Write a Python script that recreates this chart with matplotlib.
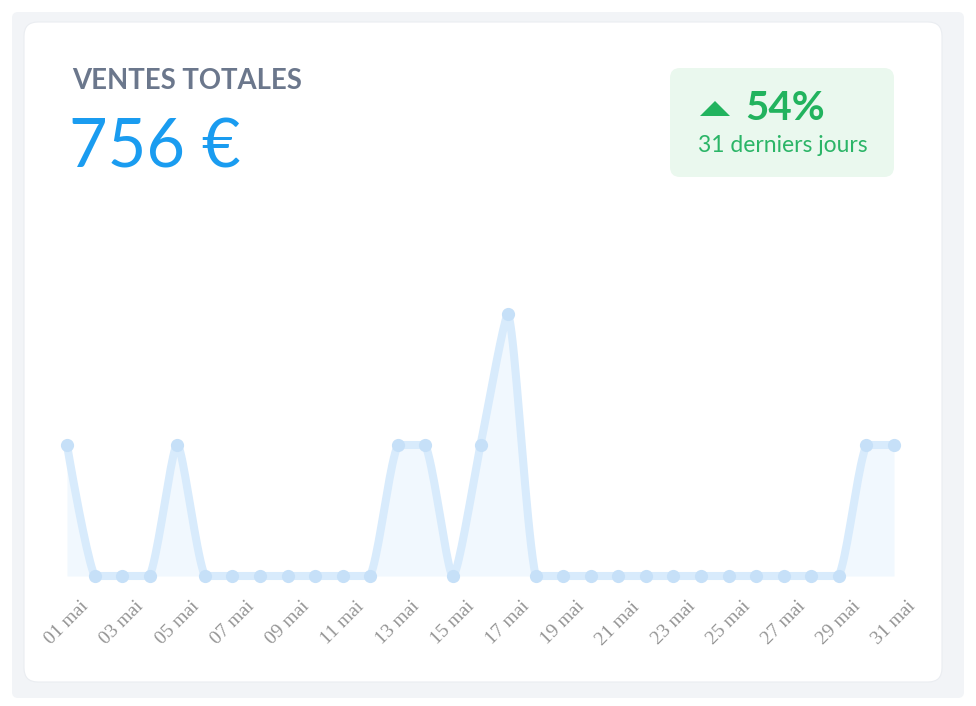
import numpy as np
import matplotlib
matplotlib.use("Agg")
import matplotlib.pyplot as plt
from matplotlib.patches import FancyBboxPatch, Polygon

# données : ventes journalières (mai)
jours = list(range(1, 32))
ventes = [84, 0, 0, 0, 84, 0, 0, 0, 0, 0, 0, 0, 84, 84, 0, 84, 168, 0,
          0, 0, 0, 0, 0, 0, 0, 0, 0, 0, 0, 84, 84]
etiquettes = ["%02d mai" % j for j in jours]
titre = "VENTES TOTALES"
total = "756 €"
variation = "54%"
periode = "31 derniers jours"

W, H = 976, 706


def spline(x, y, sx, sy, tension=0.2, n=20):
    # courbe de Bézier façon Chart.js, calculée en pixels (sx, sy = px par unité)
    p = np.column_stack([np.asarray(x, float) * sx, np.asarray(y, float) * sy])
    cp_prev = p.copy()
    cp_next = p.copy()
    for i in range(1, len(p) - 1):
        d01 = np.hypot(*(p[i] - p[i - 1]))
        d12 = np.hypot(*(p[i + 1] - p[i]))
        s01 = d01 / (d01 + d12)
        s12 = d12 / (d01 + d12)
        v = p[i + 1] - p[i - 1]
        cp_prev[i] = p[i] - tension * s01 * v
        cp_next[i] = p[i] + tension * s12 * v
    t = np.linspace(0, 1, n, endpoint=False)[:, None]
    pts = []
    for i in range(len(p) - 1):
        a, d = p[i], p[i + 1]
        lo, hi = min(a[1], d[1]), max(a[1], d[1])
        b = np.array([cp_next[i][0], np.clip(cp_next[i][1], lo, hi)])
        c = np.array([cp_prev[i + 1][0], np.clip(cp_prev[i + 1][1], lo, hi)])
        pts.append((1 - t)**3 * a + 3 * (1 - t)**2 * t * b + 3 * (1 - t) * t**2 * c + t**3 * d)
    pts.append(p[-1:])
    pts = np.vstack(pts)
    return pts[:, 0] / sx, pts[:, 1] / sy


fig = plt.figure(figsize=(W / 100, H / 100), dpi=100)
fig.patch.set_facecolor("white")

# fond en pixels
bg = fig.add_axes([0, 0, 1, 1])
bg.set_xlim(0, W)
bg.set_ylim(H, 0)
bg.axis("off")
bg.add_patch(FancyBboxPatch((12, 12), 952, 686, boxstyle="round,pad=0,rounding_size=6",
                            fc="#f2f4f7", ec="none"))
bg.add_patch(FancyBboxPatch((24, 22), 918, 660, boxstyle="round,pad=0,rounding_size=14",
                            fc="white", ec="#eaedf1", lw=0.8))

bg.text(72, 89, titre, fontsize=19.8, fontfamily="Lato", fontweight="bold",
        color="#6b778c", va="baseline")
bg.text(69, 168, total, fontsize=48, fontfamily="Lato", color="#1a9cf0", va="baseline")

# badge variation
bg.add_patch(FancyBboxPatch((670, 68), 224, 109, boxstyle="round,pad=0,rounding_size=10",
                            fc="#eaf8ee", ec="none"))
bg.add_patch(Polygon([[700, 116], [730, 116], [715, 101]], closed=True,
                     fc="#22b35e", ec="none"))
bg.text(745, 120, variation, fontsize=29, fontfamily="Lato", fontweight="bold",
        color="#22b35e", va="baseline")
bg.text(698, 152, periode, fontsize=16.5, fontfamily="Lato", color="#2bb567",
        va="baseline")

# graphique
left, right, bottom, top = 67, 894, 576, 200
ax = fig.add_axes([left / W, (H - bottom) / H, (right - left) / W, (bottom - top) / H])
ax.set_xlim(1, 31)
ax.set_ylim(0, (bottom - top) / (576 - 314) * 168)
ax.patch.set_alpha(0)

px_jour = (right - left) / 30
px_euro = (576 - 314) / 168
xs, ys = spline(jours, ventes, px_jour, px_euro)
ax.fill_between(xs, ys, 0, color="#f1f8fe", lw=0)
ax.plot(xs, ys, color="#d8ebfc", lw=5.8, solid_capstyle="round", clip_on=False)
ax.plot(jours, ventes, "o", color="#c6e0f8", ms=9.5, mec="none", clip_on=False)

ax.set_xticks(jours[::2])
ax.set_xticklabels(etiquettes[::2], rotation=45, ha="center", va="top",
                   fontfamily="Liberation Serif", fontsize=14, color="#959595")
ax.tick_params(axis="x", length=0, pad=16)
ax.set_yticks([])
for s in ax.spines.values():
    s.set_visible(False)

fig.savefig("out.png", dpi=100)
